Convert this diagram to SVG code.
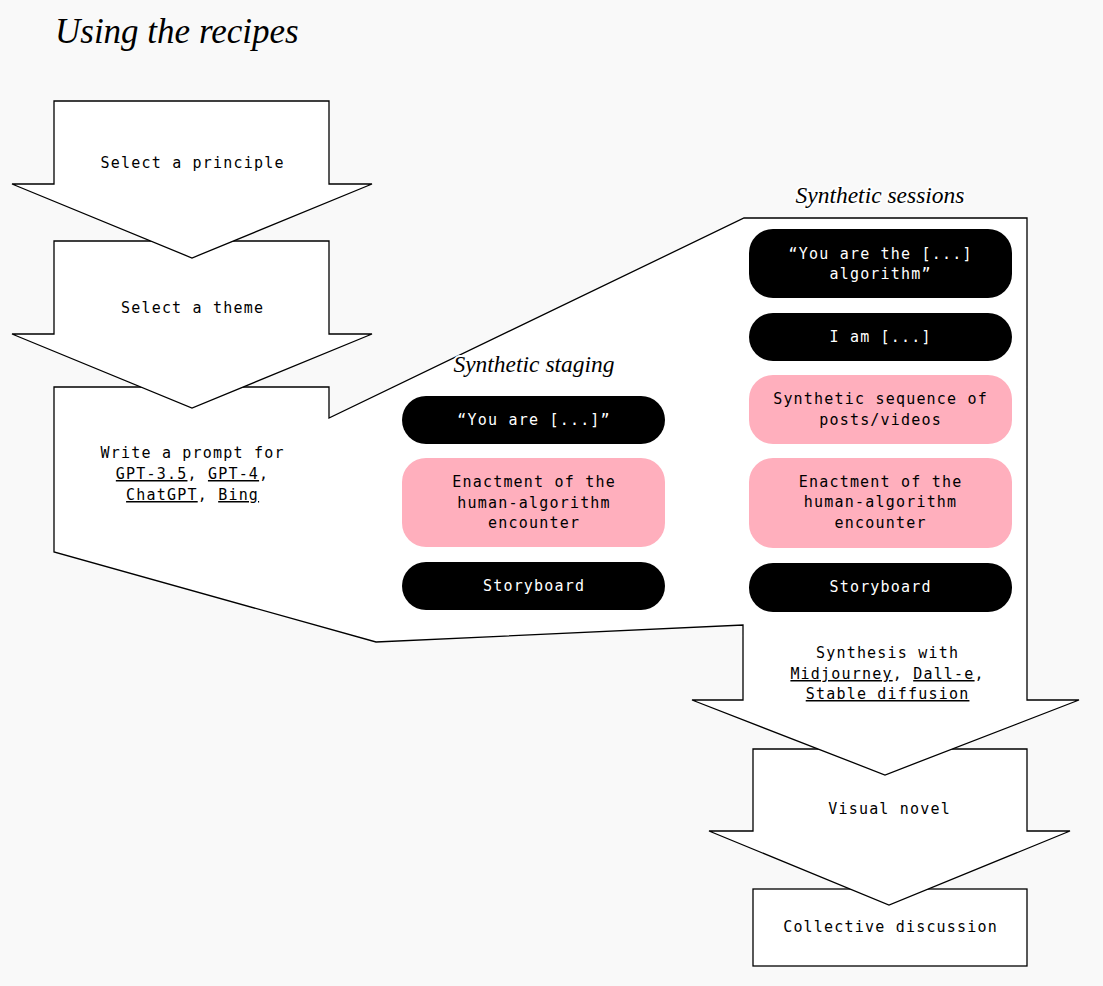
<svg xmlns="http://www.w3.org/2000/svg" width="1103" height="986" viewBox="0 0 1103 986">
<style>
.shape{fill:#fff;stroke:#000;stroke-width:1.3;stroke-linejoin:miter}
.mono{font-family:"DejaVu Sans Mono","Liberation Mono",monospace;font-size:15px;letter-spacing:1.2px;text-anchor:middle;fill:#000}
.w{fill:#fff}
.ital{font-family:"Liberation Serif","Times New Roman",serif;font-style:italic;text-anchor:middle;fill:#000}
.halo{stroke:#fff;stroke-width:4;paint-order:stroke;stroke-linejoin:round}
.dark{fill:#000}
.pink{fill:#ffafbd}
.u{text-decoration:underline}
</style>
<rect x="0" y="0" width="1103" height="986" fill="#f9f9f9"/>
<text x="55" y="43" class="ital" style="text-anchor:start;font-size:35px">Using the recipes</text>
<g id="connectors"></g>
<g id="collective-discussion">
<rect class="shape" x="753" y="889" width="274" height="77"/>
<text class="mono" x="890.6" y="932">Collective discussion</text>
</g>
<g id="visual-novel">
<path class="shape" d="M753,749 L1027,749 L1027,831 L1070,831 L889,905 L709,831 L753,831 Z"/>
<text class="mono" x="889.6" y="814">Visual novel</text>
</g>
<g id="write-prompt">
<path class="shape" d="M54,387 L329,387 L329,418 L744,218 L1027,218 L1027,700 L1079,700 L885,775 L692,700 L743,700 L743,625 L376,642 L54,552 Z"/>
<text class="mono" x="192.6" y="458">Write a prompt for</text>
<text class="mono" x="192.6" y="479"><tspan class="u">GPT-3.5</tspan>, <tspan class="u">GPT-4</tspan>,</text>
<text class="mono" x="192.6" y="500"><tspan class="u">ChatGPT</tspan>, <tspan class="u">Bing</tspan></text>
<text class="mono" x="887.6" y="658">Synthesis with</text>
<text class="mono" x="887.6" y="679"><tspan class="u">Midjourney</tspan>, <tspan class="u">Dall-e</tspan>,</text>
<text class="mono" x="887.6" y="699"><tspan class="u">Stable diffusion</tspan></text>
</g>
<g id="synthetic-staging">
<text class="ital halo" x="534" y="372" style="font-size:23.5px">Synthetic staging</text>
</g>
<g id="staging-you-are">
<rect class="dark" x="402" y="396" width="263" height="48" rx="24"/>
<text class="mono w" x="534.1" y="425">“You are [...]”</text>
</g>
<g id="staging-enactment">
<rect class="pink" x="402" y="458" width="263" height="89" rx="24"/>
<text class="mono" x="534.1" y="487">Enactment of the</text>
<text class="mono" x="534.1" y="508">human-algorithm</text>
<text class="mono" x="534.1" y="528">encounter</text>
</g>
<g id="staging-storyboard">
<rect class="dark" x="402" y="562" width="263" height="48" rx="24"/>
<text class="mono w" x="534.1" y="591">Storyboard</text>
</g>
<g id="synthetic-sessions">
<text class="ital halo" x="880" y="203" style="font-size:23.5px">Synthetic sessions</text>
</g>
<g id="sessions-you-are">
<rect class="dark" x="749" y="229" width="263" height="69" rx="24"/>
<text class="mono w" x="880.6" y="259">“You are the [...]</text>
<text class="mono w" x="880.6" y="279">algorithm”</text>
</g>
<g id="sessions-i-am">
<rect class="dark" x="749" y="313" width="263" height="48" rx="24"/>
<text class="mono w" x="880.6" y="342">I am [...]</text>
</g>
<g id="sessions-sequence">
<rect class="pink" x="749" y="375" width="263" height="69" rx="24"/>
<text class="mono" x="880.6" y="404">Synthetic sequence of</text>
<text class="mono" x="880.6" y="425">posts/videos</text>
</g>
<g id="sessions-enactment">
<rect class="pink" x="749" y="458" width="263" height="90" rx="24"/>
<text class="mono" x="880.6" y="487">Enactment of the</text>
<text class="mono" x="880.6" y="507">human-algorithm</text>
<text class="mono" x="880.6" y="528">encounter</text>
</g>
<g id="sessions-storyboard">
<rect class="dark" x="749" y="563" width="263" height="49" rx="24"/>
<text class="mono w" x="880.6" y="592">Storyboard</text>
</g>
<g id="select-theme">
<path class="shape" d="M54,241 L329,241 L329,334 L372,334 L192,408 L12,334 L54,334 Z"/>
<text class="mono" x="192.6" y="313">Select a theme</text>
</g>
<g id="select-principle">
<path class="shape" d="M54,101 L329,101 L329,184 L372,184 L192,258 L12,184 L54,184 Z"/>
<text class="mono" x="192.6" y="168">Select a principle</text>
</g>
</svg>
